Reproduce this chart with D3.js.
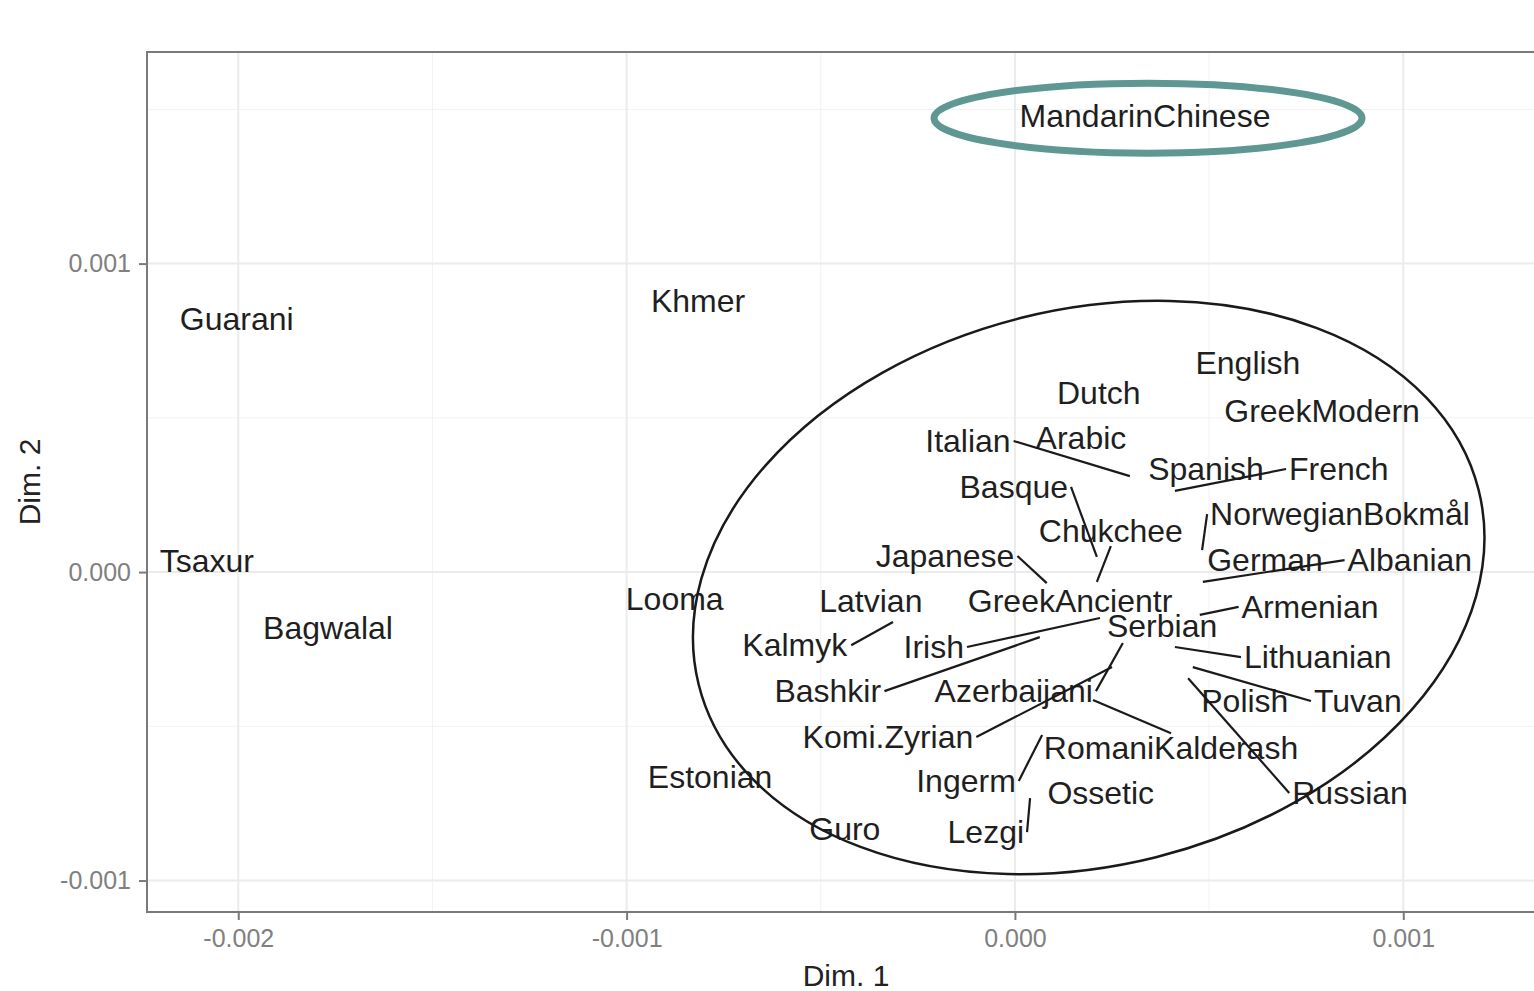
<!DOCTYPE html>
<html>
<head>
<meta charset="utf-8">
<script src="https://cdn.jsdelivr.net/npm/d3@7"></script>
<style>
  body { margin: 0; background: #fff; }
  text { font-family: "Liberation Sans", Arial, sans-serif; }
</style>
</head>
<body>
<div id="chart"></div>
<script>
// language names, point coordinates (Dim. 1 / Dim. 2) and repelled label coordinates
const languages = ["MandarinChinese","Guarani","Khmer","Tsaxur","Bagwalal","Looma","Estonian","Guro",
  "English","Dutch","GreekModern","Arabic","Italian","Spanish","French","Basque","Chukchee",
  "NorwegianBokmål","Japanese","German","Albanian","Latvian","GreekAncientr","Armenian","Serbian",
  "Kalmyk","Irish","Lithuanian","Bashkir","Azerbaijani","Polish","Tuvan","Komi.Zyrian",
  "RomaniKalderash","Ingerm","Ossetic","Russian","Lezgi"];

const dim1 = [0.000335,-0.002004,-0.000816,-0.002081,-0.001769,-0.000876,-0.000785,-0.000438,
  0.000600,0.000216,0.000791,0.000170,0.000296,0.000492,0.000412,0.000211,0.000211,
  0.000482,0.000082,0.000644,0.000484,-0.000371,0.000142,0.000476,0.000379,
  -0.000314,0.000219,0.000412,0.000064,0.000278,0.000592,0.000458,0.000250,
  0.000201,0.000070,0.000221,0.000446,0.000039];

const dim2 = [0.001478,0.000820,0.000878,0.000036,-0.000182,-0.000088,-0.000665,-0.000833,
  0.000677,0.000580,0.000522,0.000434,0.000311,0.000334,0.000263,0.000049,-0.000032,
  0.000071,-0.000036,0.000039,-0.000032,-0.000094,-0.000094,-0.000139,-0.000175,
  -0.000162,-0.000149,-0.000243,-0.000211,-0.000230,-0.000418,-0.000308,-0.000308,
  -0.000415,-0.000528,-0.000716,-0.000344,-0.000733];

const labelDim1 = [0.000335,-0.002004,-0.000816,-0.002081,-0.001769,-0.000876,-0.000785,-0.000438,
  0.000600,0.000216,0.000791,0.000170,-0.000121,0.000492,0.000834,-0.000003,0.000247,
  0.000837,-0.000180,0.000644,0.001017,-0.000371,0.000142,0.000760,0.000379,
  -0.000567,-0.000209,0.000780,-0.000482,-0.000003,0.000592,0.000883,-0.000327,
  0.000402,-0.000126,0.000221,0.000863,-0.000075];

const labelDim2 = [0.001478,0.000820,0.000878,0.000036,-0.000182,-0.000088,-0.000665,-0.000833,
  0.000677,0.000580,0.000522,0.000434,0.000425,0.000334,0.000334,0.000276,0.000133,
  0.000188,0.000052,0.000039,0.000039,-0.000094,-0.000094,-0.000113,-0.000175,
  -0.000237,-0.000243,-0.000276,-0.000386,-0.000386,-0.000418,-0.000418,-0.000535,
  -0.000571,-0.000677,-0.000716,-0.000716,-0.000843];

const xTicks = [-0.002, -0.001, 0, 0.001];
const yTicks = [-0.001, 0, 0.001];
const xMinor = [-0.0015, -0.0005, 0.0005];
const yMinor = [-0.0005, 0.0005, 0.0015];
const highlighted = "MandarinChinese";

const margin = {top: 52, right: -11, bottom: 79, left: 147},
  width = 1534 - margin.left - margin.right,
  height = 991 - margin.top - margin.bottom;

const svg = d3.select("#chart")
  .append("svg")
  .attr("width", 1534)
  .attr("height", 991)
  .append("g")
  .attr("transform", `translate(${margin.left}, ${margin.top})`);

const x = d3.scaleLinear().domain([-0.002235, 0.001365]).range([0, width]);
const y = d3.scaleLinear().domain([-0.001102, 0.001686]).range([height, 0]);
// plain hyphen minus like R prints it
const fmt = d => d.toFixed(3);

// grid (minor then major)
svg.selectAll(".xminor").data(xMinor).join("line")
  .attr("x1", d => x(d)).attr("x2", d => x(d)).attr("y1", 0).attr("y2", height)
  .attr("stroke", "#f2f2f2").attr("stroke-width", 1);
svg.selectAll(".yminor").data(yMinor).join("line")
  .attr("y1", d => y(d)).attr("y2", d => y(d)).attr("x1", 0).attr("x2", width)
  .attr("stroke", "#f2f2f2").attr("stroke-width", 1);
svg.selectAll(".xmajor").data(xTicks).join("line")
  .attr("x1", d => x(d)).attr("x2", d => x(d)).attr("y1", 0).attr("y2", height)
  .attr("stroke", "#ebebeb").attr("stroke-width", 2);
svg.selectAll(".ymajor").data(yTicks).join("line")
  .attr("y1", d => y(d)).attr("y2", d => y(d)).attr("x1", 0).attr("x2", width)
  .attr("stroke", "#ebebeb").attr("stroke-width", 2);

// axes
const xAxis = svg.append("g")
  .attr("transform", `translate(0, ${height})`)
  .call(d3.axisBottom(x).tickValues(xTicks).tickFormat(fmt).tickSize(8).tickPadding(6));
const yAxis = svg.append("g")
  .call(d3.axisLeft(y).tickValues(yTicks).tickFormat(fmt).tickSize(8).tickPadding(8));
[xAxis, yAxis].forEach(a => {
  a.select(".domain").remove();
  a.selectAll(".tick line").attr("stroke", "#7a7a7a").attr("stroke-width", 2);
  a.selectAll(".tick text").attr("fill", "#808080").style("font-size", "25px")
    .style("font-family", "'Liberation Sans', Arial, sans-serif");
});
xAxis.selectAll(".tick text").attr("dy", "0.85em");

// panel border
svg.append("rect")
  .attr("width", width).attr("height", height)
  .attr("fill", "none").attr("stroke", "#7a7a7a").attr("stroke-width", 2);

// axis titles
svg.append("text")
  .attr("x", width / 2).attr("y", height + 63).attr("dy", "0.35em")
  .attr("text-anchor", "middle").style("font-size", "30px").attr("fill", "#222")
  .text("Dim. 1");
svg.append("text")
  .attr("transform", `translate(-118, ${height / 2}) rotate(-90)`)
  .attr("dy", "0.35em").attr("text-anchor", "middle")
  .style("font-size", "30px").attr("fill", "#222")
  .text("Dim. 2");

// labels
const rows = languages.map((name, i) => ({
  name, px: dim1[i], py: dim2[i], lx: labelDim1[i], ly: labelDim2[i]
}));

const labels = svg.append("g").selectAll("text").data(rows).join("text")
  .attr("x", d => x(d.lx)).attr("y", d => y(d.ly)).attr("dy", "0.35em")
  .attr("text-anchor", "middle").style("font-size", "32px").attr("fill", "#1f1f1f")
  .text(d => d.name);

// repel segments from label box to point
const segs = [];
labels.each(function(d) {
  if (d.px === d.lx && d.py === d.ly) return;
  const bb = this.getBBox();
  const cx = x(d.lx), cy = y(d.ly);
  const x1 = bb.x - 3, x2 = bb.x + bb.width + 3, y1 = cy - 15, y2 = cy + 15;
  const tx = x(d.px), ty = y(d.py);
  let sx, sy;
  if (tx < x1) { sx = x1; sy = cy; }
  else if (tx > x2) { sx = x2; sy = cy; }
  else { sx = cx; sy = ty < y1 ? y1 : y2; }
  segs.push({sx, sy, tx, ty});
});
svg.append("g").selectAll("line").data(segs).join("line")
  .attr("x1", d => d.sx).attr("y1", d => d.sy)
  .attr("x2", d => d.tx).attr("y2", d => d.ty)
  .attr("stroke", "#1a1a1a").attr("stroke-width", 2.2);

// hand drawn cluster ellipse
const cluster = {dim1: 0.00019, dim2: -0.00005, r1: 0.001035, r2: 0.000901, angle: -14};
const ccx = x(cluster.dim1), ccy = y(cluster.dim2);
svg.append("ellipse")
  .attr("cx", ccx).attr("cy", ccy)
  .attr("rx", x(cluster.dim1 + cluster.r1) - ccx)
  .attr("ry", y(cluster.dim2 - cluster.r2) - ccy)
  .attr("transform", `rotate(${cluster.angle}, ${ccx}, ${ccy})`)
  .attr("fill", "none").attr("stroke", "#1a1a1a").attr("stroke-width", 2.5);

// highlight around MandarinChinese
const h = rows.find(d => d.name === highlighted);
svg.append("ellipse")
  .attr("cx", x(h.lx) + 3).attr("cy", y(h.ly) + 2)
  .attr("rx", 214).attr("ry", 35)
  .attr("fill", "none").attr("stroke", "#5f9893").attr("stroke-width", 7);
</script>
</body>
</html>
